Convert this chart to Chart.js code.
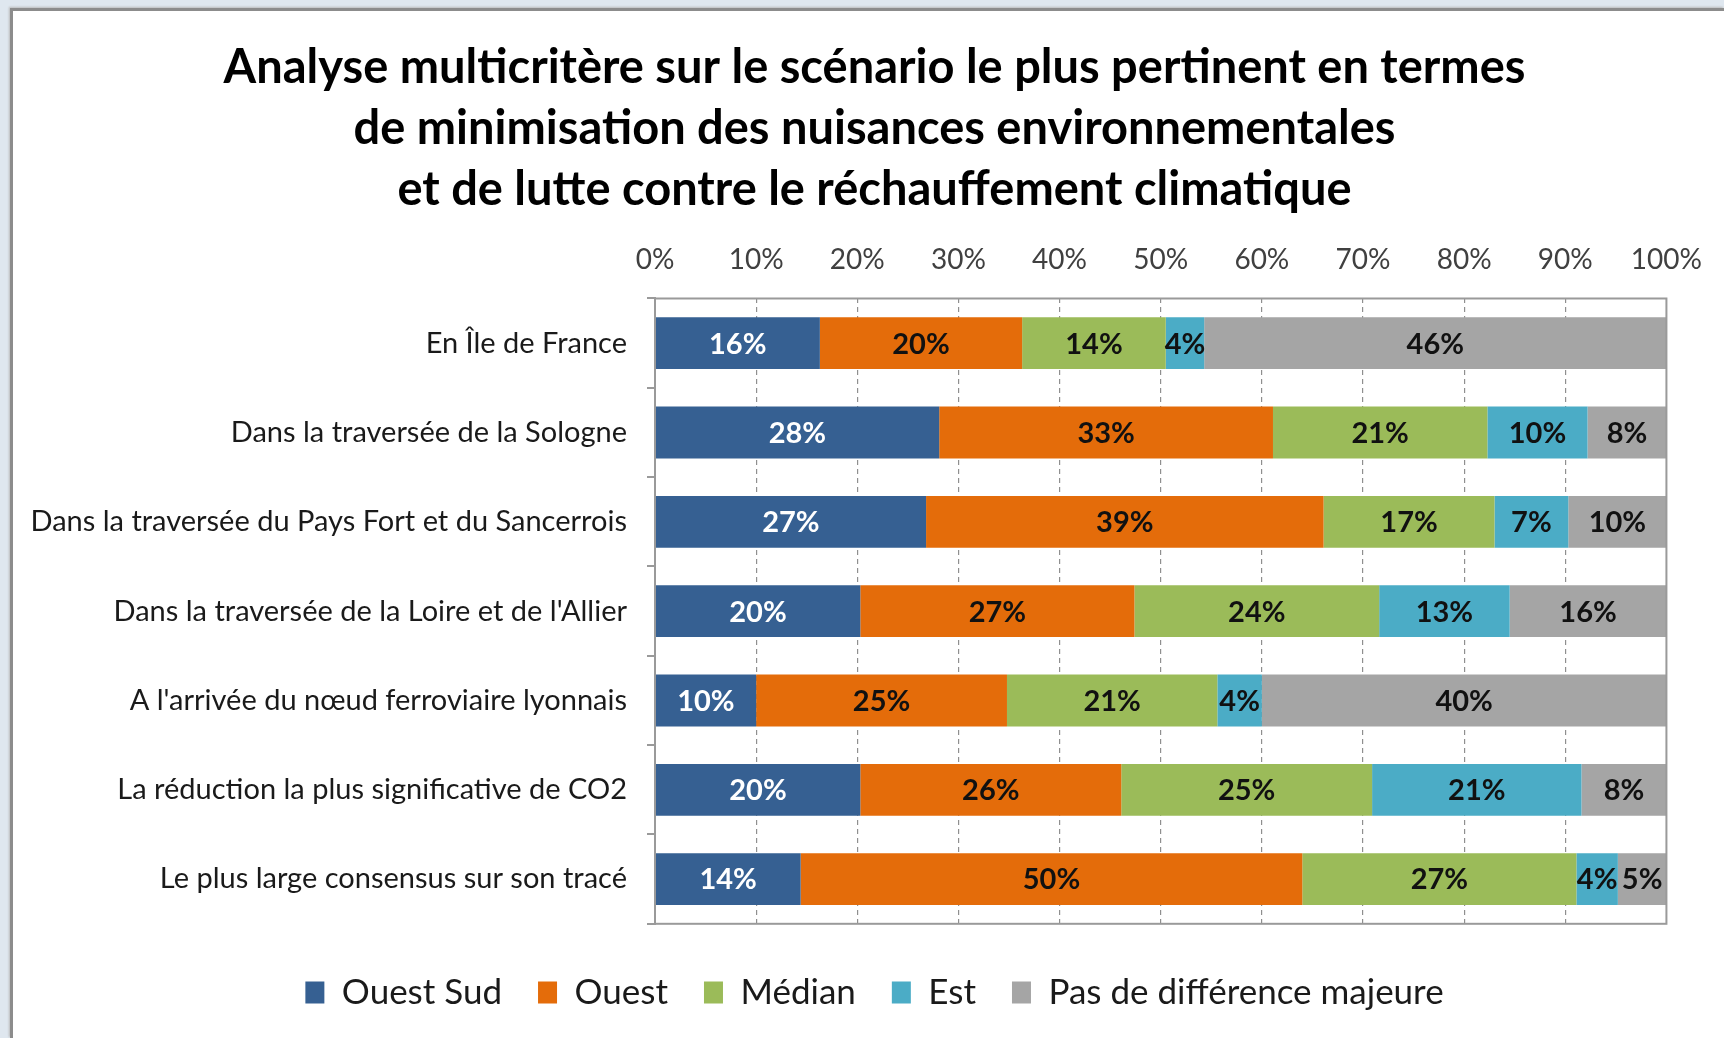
<!DOCTYPE html>
<html>
<head>
<meta charset="utf-8">
<script src="https://cdn.jsdelivr.net/npm/chart.js@4"></script>
<style>
  html, body { margin: 0; padding: 0; }
  body { width: 1724px; height: 1038px; background: #dfe7ef; position: relative; overflow: hidden; }
  #frame { position: absolute; left: 10px; top: 8px; right: 0; bottom: 0; background: #fff;
           border-left: 3px solid #8c8c8c; border-top: 3px solid #8c8c8c; box-shadow: -1px -1px 2px #bbb; }
  #chart { position: absolute; left: 0; top: 0; }
</style>
</head>
<body>
<div id="frame"></div>
<canvas id="chart" width="1724" height="1038"></canvas>
<script>
const categories = [
  'En Île de France',
  'Dans la traversée de la Sologne',
  'Dans la traversée du Pays Fort et du Sancerrois',
  'Dans la traversée de la Loire et de l\'Allier',
  'A l\'arrivée du nœud ferroviaire lyonnais',
  'La réduction la plus significative de CO2',
  'Le plus large consensus sur son tracé'
];

const ouestSud = [16.3, 28.1, 26.8, 20.3, 10.0, 20.3, 14.4];
const ouest    = [20.0, 33.0, 39.3, 27.1, 24.8, 25.8, 49.6];
const median   = [14.2, 21.2, 16.9, 24.2, 20.8, 24.8, 27.1];
const est      = [3.8, 9.9, 7.3, 12.9, 4.4, 20.7, 4.1];
const pasDiff  = [45.7, 7.8, 9.7, 15.5, 40.0, 8.4, 4.8];

const xTicks = [0, 10, 20, 30, 40, 50, 60, 70, 80, 90, 100];

const title = [
  'Analyse multicritère sur le scénario le plus pertinent en termes',
  'de minimisation des nuisances environnementales',
  'et de lutte contre le réchauffement climatique'
];

const FONT = 'Lato, "Open Sans", sans-serif';

// writes the rounded % in the middle of each bar piece
const barLabels = {
  id: 'barLabels',
  afterDatasetsDraw(chart) {
    const ctx = chart.ctx;
    ctx.save();
    ctx.font = `bold 29px ${FONT}`;
    ctx.textAlign = 'center';
    ctx.textBaseline = 'middle';
    chart.data.datasets.forEach((ds, i) => {
      const meta = chart.getDatasetMeta(i);
      ctx.fillStyle = i === 0 ? '#ffffff' : '#111111';
      meta.data.forEach((bar, j) => {
        const x = (bar.x + bar.base) / 2;
        ctx.fillText(Math.round(ds.data[j]) + '%', x, bar.y + 1);
      });
    });
    ctx.restore();
  }
};

// solid frame around the plot area
const plotFrame = {
  id: 'plotFrame',
  afterDraw(chart) {
    const {left, top, right, bottom} = chart.chartArea;
    const ctx = chart.ctx;
    ctx.save();
    ctx.strokeStyle = '#9a9a9a';
    ctx.lineWidth = 2;
    ctx.strokeRect(left, top, right - left, bottom - top);
    ctx.restore();
  }
};

// y labels are wider than the y axis box, let them draw past its left edge
const unclipLabels = {
  id: 'unclipLabels',
  afterLayout(chart) {
    chart.scales.y.left = 0;
  }
};

new Chart(document.getElementById('chart'), {
  type: 'bar',
  data: {
    labels: categories,
    datasets: [
      { label: 'Ouest Sud', data: ouestSud, backgroundColor: '#366092' },
      { label: 'Ouest', data: ouest, backgroundColor: '#e46c0a' },
      { label: 'Médian', data: median, backgroundColor: '#9bbb59' },
      { label: 'Est', data: est, backgroundColor: '#4bacc6' },
      { label: 'Pas de différence majeure', data: pasDiff, backgroundColor: '#a5a5a5' }
    ]
  },
  options: {
    indexAxis: 'y',
    responsive: false,
    animation: false,
    // left padding is wide so the title and legend centre where the original does
    layout: { padding: { left: 78, right: 53, top: 10, bottom: 18 } },
    datasets: {
      bar: { categoryPercentage: 1, barPercentage: 0.58, borderWidth: 0 }
    },
    scales: {
      x: {
        position: 'top',
        stacked: true,
        min: 0,
        max: 100,
        afterBuildTicks: scale => { scale.ticks = xTicks.map(v => ({ value: v })); },
        ticks: {
          callback: v => v + '%',
          color: '#404040',
          font: { family: FONT, size: 28 },
          padding: 22
        },
        grid: {
          drawTicks: false,
          color: ctx => (ctx.tick && (ctx.tick.value === 0 || ctx.tick.value === 100)) ? 'rgba(0,0,0,0)' : '#8f8f8f',
          lineWidth: 1.2
        },
        border: { display: false, dash: [5, 4] }
      },
      y: {
        stacked: true,
        afterFit: scale => { scale.width = 577; },
        ticks: {
          color: '#1a1a1a',
          font: { family: FONT, size: 29 },
          padding: 20
        },
        grid: {
          offset: true,
          drawOnChartArea: false,
          drawTicks: true,
          tickLength: 8,
          color: '#9a9a9a',
          lineWidth: 2
        },
        border: { display: true, color: '#9a9a9a', width: 2 }
      }
    },
    plugins: {
      title: {
        display: true,
        text: title,
        color: '#000000',
        font: { family: FONT, size: 47, weight: 'bold', lineHeight: 1.29 },
        padding: { top: 28, bottom: 1 }
      },
      legend: {
        position: 'bottom',
        // empty title only used as a spacer above the items
        title: { display: true, text: ' ', padding: 7, font: { size: 1 } },
        labels: {
          color: '#1a1a1a',
          font: { family: FONT, size: 35 },
          boxWidth: 19,
          boxHeight: 22,
          padding: 36
        }
      },
      tooltip: { enabled: false }
    }
  },
  plugins: [barLabels, plotFrame, unclipLabels]
});
</script>
</body>
</html>
